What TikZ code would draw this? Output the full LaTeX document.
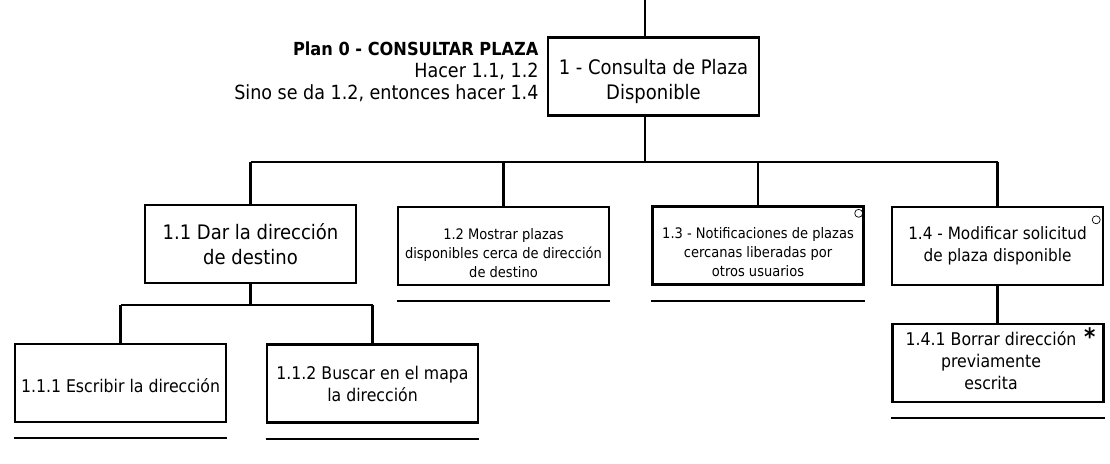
\documentclass[tikz,border=0pt]{standalone}
\usepackage{fontspec}
\setmainfont{DejaVu Sans Condensed}
\newcommand{\bajar}[1]{\rule{0pt}{#1}}
\tikzset{
    tarea/.style={draw, line width=2.4pt, minimum width=211pt, minimum height=78pt, align=center, inner sep=2pt},
    grande/.style={font=\fontsize{20}{25}\selectfont},
    medio/.style={font=\fontsize{17.5}{22}\selectfont},
    chico/.style={font=\fontsize{14.5}{19}\selectfont},
    linea/.style={line width=2.2pt},
    raya/.style={line width=2pt},
    marca/.style={circle, draw, line width=0.7pt, inner sep=0pt, minimum size=8pt}
}
\begin{document}
\begin{tikzpicture}[x=1pt, y=-1pt]
        \useasboundingbox (0,0) rectangle (1110,463);
        %%%%%%%%%% Nodos %%%%%%%%%%
        \coordinate (raiz) at (645,0);
        \node[tarea, grande] (n1) at (653.5,76.5) {\bajar{26pt}1 - Consulta de Plaza\\Disponible};
        \node[font=\fontsize{19.5}{22}\selectfont, align=right, anchor=east] (plan) at (542,72)
            {{\fontsize{18}{22}\selectfont\bfseries Plan 0 - CONSULTAR PLAZA}\\Hacer 1.1, 1.2\\Sino se da 1.2, entonces hacer 1.4};

        \node[tarea, grande] (n11) at (250.5,244) {1.1 Dar la dirección\\de destino};
        \node[tarea, chico] (n12) at (503.5,246) {\bajar{25pt}1.2 Mostrar plazas\\disponibles cerca de dirección\\de destino};
        \node[tarea, chico] (n13) at (758,245.5) {\bajar{25pt}1.3 - Notificaciones de plazas\\cercanas liberadas por\\otros usuarios};
        \node[tarea, font=\fontsize{17}{22}\selectfont] (n14) at (997.5,246) {1.4 - Modificar solicitud\\de plaza disponible};

        \node[tarea, medio] (n111) at (120.5,383) {\bajar{20pt}1.1.1 Escribir la dirección};
        \node[tarea, medio] (n112) at (372.5,383.5) {1.1.2 Buscar en el mapa\\la dirección};
        \node[tarea, medio] (n141) at (998,363)
            {\begin{tabular}{@{}c@{\hspace{14pt}}}1.4.1 Borrar dirección\\previamente\\escrita\end{tabular}};

        \node[marca] (o13) at ([xshift=-6pt, yshift=-8pt]n13.north east) {};
        \node[marca] (o14) at ([xshift=-8pt, yshift=-14pt]n14.north east) {};
        \node[font=\fontsize{24}{24}\selectfont\bfseries, inner sep=0pt] (ast) at ([xshift=-15pt, yshift=-14pt]n141.north east) {*};

        %%%%%%%%% Conectores %%%%%%%%%
        \coordinate (bar1) at (645,162);
        \coordinate (bar2) at (247,305);
        \draw[linea] (raiz) -- (raiz |- n1.north);
        \draw[linea] (raiz |- n1.south) -- (bar1);
        \draw[linea] (n11.north |- bar1) -- (n14.north |- bar1);
        \foreach \n in {n11,n12,n13,n14}
            \draw[linea] (\n.north |- bar1) -- (\n.north);

        \draw[linea] (n11.south) -- (n11.south |- bar2);
        \draw[linea] (n111.north |- bar2) -- (n112.north |- bar2);
        \foreach \n in {n111,n112}
            \draw[linea] (\n.north |- bar2) -- (\n.north);

        \draw[linea] (n14.south) -- (n14.south |- n141.north);

        %%%%%%%%% Rayas %%%%%%%%%
        \foreach \n in {n12,n13,n111,n112,n141}
            \draw[raya] ([yshift=-15pt]\n.south west) -- ([yshift=-15pt]\n.south east);
    \end{tikzpicture}
\end{document}
